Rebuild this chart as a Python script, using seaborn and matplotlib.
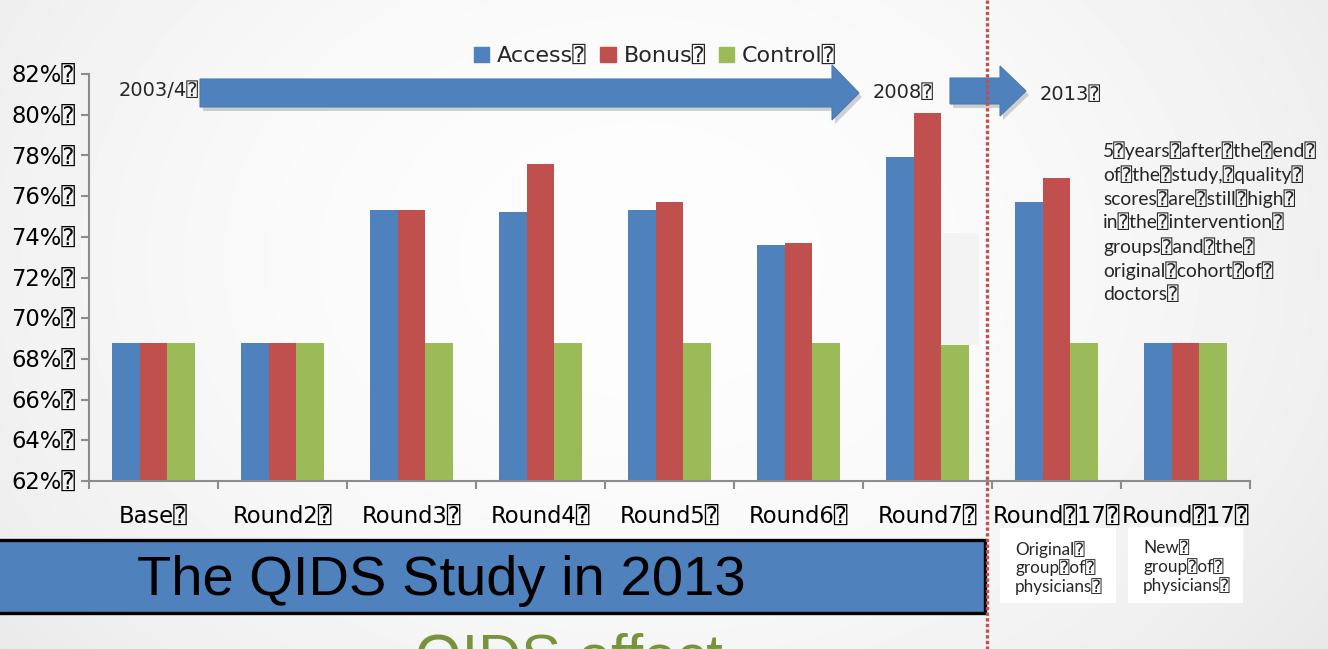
import numpy as np
import pandas as pd
import matplotlib
matplotlib.use("Agg")
import matplotlib.pyplot as plt
import seaborn as sns
from matplotlib.patches import Rectangle, Polygon

# ---- data -------------------------------------------------------------
BOX = "\u2370"  # placeholder glyph shown in place of spaces on the slide

rounds = ["Base", "Round2", "Round3", "Round4", "Round5", "Round6", "Round7",
          "Round17 original", "Round17 new"]
round_labels = ["Base" + BOX, "Round2" + BOX, "Round3" + BOX, "Round4" + BOX,
                "Round5" + BOX, "Round6" + BOX, "Round7" + BOX,
                "Round" + BOX + "17" + BOX, "Round" + BOX + "17" + BOX]
groups = ["Access", "Bonus", "Control"]
access = [68.8, 68.8, 75.3, 75.2, 75.3, 73.6, 77.9, 75.7, 68.8]
bonus = [68.8, 68.8, 75.3, 77.6, 75.7, 73.7, 80.1, 76.9, 68.8]
control = [68.8, 68.8, 68.8, 68.8, 68.8, 68.8, 68.7, 68.8, 68.8]
y_ticks = [62, 64, 66, 68, 70, 72, 74, 76, 78, 80, 82]
colors = ["#4f81bd", "#c0504d", "#9bbb59"]

df = pd.DataFrame({
    "round": rounds * 3,
    "group": [g for g in groups for _ in rounds],
    "score": access + bonus + control,
})

# ---- figure -----------------------------------------------------------
sns.set_theme(style="white")
plt.rcParams["font.family"] = ["DejaVu Sans", "DejaVu Sans Mono"]

W, H = 1328, 649
fig = plt.figure(figsize=(W / 100, H / 100), dpi=100)

# soft slide background
bg = fig.add_axes([0, 0, 1, 1], zorder=0)
yy, xx = np.mgrid[0:H, 0:W]
dist = ((xx - 640) / 820.0) ** 2 + ((yy - 260) / 620.0) ** 2
shade = np.clip(0.992 - 0.075 * dist, 0.90, 1.0)
bg.imshow(shade, cmap="gray", vmin=0, vmax=1, aspect="auto",
          extent=[0, W, H, 0], interpolation="bilinear")
bg.set_xlim(0, W)
bg.set_ylim(H, 0)
bg.axis("off")

# main chart
ax = fig.add_axes([89 / W, 1 - 481 / H, (1250 - 89) / W, (481 - 74) / H], zorder=1)
ax.patch.set_alpha(0)
sns.barplot(data=df, x="round", y="score", hue="group", order=rounds,
            hue_order=groups, palette=colors, width=0.65, gap=0,
            saturation=1, linewidth=0, errorbar=None, legend=False, ax=ax)

ax.set_ylim(62, 82)
ax.set_yticks(y_ticks)
ax.set_yticklabels([f"{v}%" + BOX for v in y_ticks], fontsize=16.3)
ax.set_xlim(-0.5, len(rounds) - 0.5)
ax.set_xticks(range(len(rounds)))
ax.set_xticklabels(round_labels, fontsize=16.3)
ax.set_xticks(np.arange(-0.5, len(rounds), 1), minor=True)
ax.set_xlabel("")
ax.set_ylabel("")
for side in ("top", "right"):
    ax.spines[side].set_visible(False)
for side in ("left", "bottom"):
    ax.spines[side].set_color("#8c8c8c")
    ax.spines[side].set_linewidth(1.5)
ax.tick_params(axis="y", left=True, length=6, width=1.5, color="#8c8c8c",
               pad=4, labelcolor="black")
ax.tick_params(axis="x", which="major", bottom=False, length=0, pad=18,
               labelcolor="black")
ax.tick_params(axis="x", which="minor", bottom=True, length=6, width=1.5,
               color="#8c8c8c")
ax.grid(False)

handles = [Rectangle((0, 0), 1, 1, color=c) for c in colors]
fig.legend(handles, [g + BOX for g in groups], loc="center",
           bbox_to_anchor=(655 / W, 1 - 56 / H), ncol=3, frameon=False,
           fontsize=16, handlelength=0.7, handleheight=0.7,
           handletextpad=0.35, columnspacing=0.6)

# ---- slide decorations (pixel coordinates) ----------------------------
ov = fig.add_axes([0, 0, 1, 1], zorder=2)
ov.set_xlim(0, W)
ov.set_ylim(H, 0)
ov.axis("off")
ov.patch.set_alpha(0)


def block_arrow(x0, x_head, x_tip, top, bottom, head_top, head_bottom):
    mid = (top + bottom) / 2
    pts = [(x0, top), (x_head, top), (x_head, head_top), (x_tip, mid),
           (x_head, head_bottom), (x_head, bottom), (x0, bottom)]
    shadow = [(x + 3, y + 4) for x, y in pts]
    ov.add_patch(Polygon(shadow, closed=True, facecolor="#7f7f7f",
                         alpha=0.35, edgecolor="none"))
    ov.add_patch(Polygon(pts, closed=True, facecolor="#4f81bd",
                         edgecolor="#4a7ab4", lw=0.8))


block_arrow(200, 832, 859, 79, 107, 65, 120)
block_arrow(950, 1000, 1026, 78, 104, 66, 116)

ov.text(119, 90, "2003/4" + BOX, fontsize=14, va="center", ha="left")
ov.text(873, 93, "2008" + BOX, fontsize=14, va="center", ha="left")
ov.text(1040, 95, "2013" + BOX, fontsize=14, va="center", ha="left")

# shaded patch over the last pre-2013 control bar
ov.add_patch(Rectangle((943, 233), 36, 112, facecolor="#f3f3f3",
                       edgecolor="none"))

# divider between study period and follow-up
ov.plot([987, 987], [0, H], color="#c0504d", lw=2.4,
        linestyle=(0, (1, 0.7)), solid_capstyle="butt")

note = ("5{b}years{b}after{b}the{b}end{b}\nof{b}the{b}study,{b}quality{b}\n"
        "scores{b}are{b}still{b}high{b}\nin{b}the{b}intervention{b}\n"
        "groups{b}and{b}the{b}\noriginal{b}cohort{b}of{b}\ndoctors{b}").format(b=BOX)
ov.text(1103, 222, note, fontsize=13.9, va="center", ha="left",
        family=["Lato", "DejaVu Sans Mono"], linespacing=1.36)

ov.add_patch(Rectangle((1000, 528), 116, 75, facecolor="white", edgecolor="none"))
ov.add_patch(Rectangle((1128, 527), 115, 76, facecolor="white", edgecolor="none"))
ov.text(1015, 568, "Original{b}\ngroup{b}of{b}\nphysicians{b}".format(b=BOX),
        fontsize=12.3, va="center", ha="left",
        family=["Lato", "DejaVu Sans Mono"], linespacing=1.15)
ov.text(1143, 567, "New{b}\ngroup{b}of{b}\nphysicians{b}".format(b=BOX),
        fontsize=12.3, va="center", ha="left",
        family=["Lato", "DejaVu Sans Mono"], linespacing=1.15)

# title banner
ov.add_patch(Rectangle((-5, 540), 990, 73, facecolor="#4f81bd",
                       edgecolor="black", lw=2.4))
ov.text(137, 595, "The QIDS Study in 2013", fontsize=40.4, va="baseline",
        ha="left", family="Liberation Sans", color="black")
ov.text(415, 676, "QIDS effect", fontsize=43, va="baseline", ha="left",
        family="Liberation Sans", color="#77933c")

fig.savefig("out.png", dpi=100)
